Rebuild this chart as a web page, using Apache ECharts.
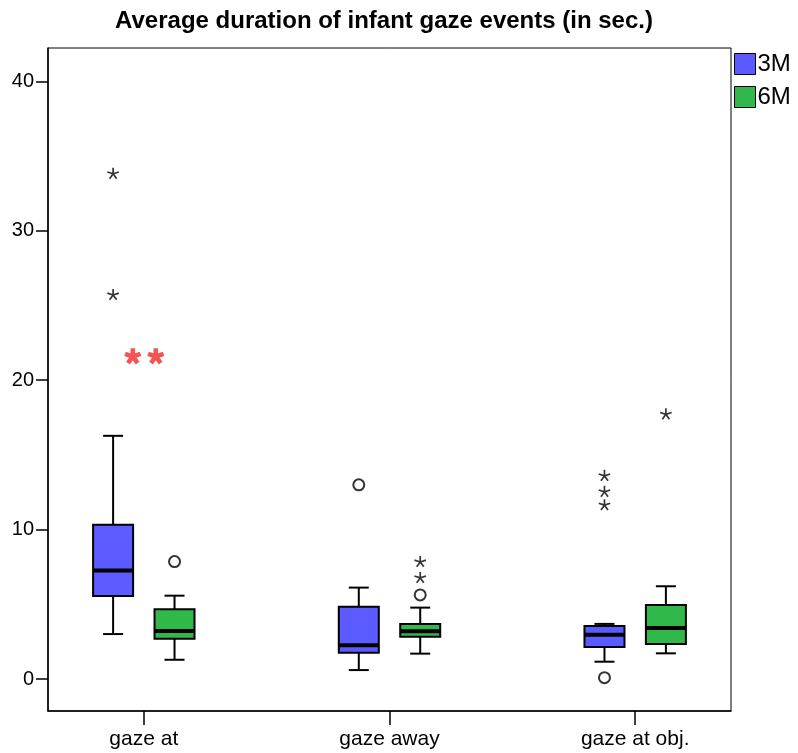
<!DOCTYPE html>
<html>
<head>
<meta charset="utf-8">
<script src="https://cdn.jsdelivr.net/npm/echarts@6/dist/echarts.min.js"></script>
<style>html,body{margin:0;padding:0;background:#fff}#main{width:798px;height:753px}</style>
</head>
<body>
<div id="main"></div>
<script>
// ---- data ----
const categories = ['gaze at', 'gaze away', 'gaze at obj.'];
const seriesNames = ['3M', '6M'];
// [lower whisker, Q1, median, Q3, upper whisker]
const box3M = [[3.01, 5.56, 7.26, 10.32, 16.28], [0.60, 1.76, 2.26, 4.84, 6.12], [1.16, 2.14, 2.97, 3.55, 3.69]];
const box6M = [[1.29, 2.70, 3.22, 4.67, 5.58], [1.70, 2.83, 3.20, 3.69, 4.78], [1.72, 2.35, 3.42, 4.96, 6.21]];
// [category index, value]
const outliers3M = [[1, 13.0], [2, 0.09]];
const extremes3M = [[0, 33.84], [0, 25.73], [2, 13.62], [2, 12.55], [2, 11.66]];
const outliers6M = [[0, 7.86], [1, 5.63]];
const extremes6M = [[1, 7.86], [1, 6.79], [2, 17.74]];
const sigMarks = [[0, 21.6]];
const yTicks = [0, 10, 20, 30, 40];
const xTicks = [0, 1, 2];

// ---- styling ----
const COLORS = ['#5b5bff', '#31b84a'];
const OFF = [-0.125, 0.125];
const FONT = 'Liberation Sans';

function asterisk(cx, cy, L, w) {
  let d = '';
  for (let k = 0; k < 5; k++) {
    const a = k * 72 * Math.PI / 180;
    const dx = Math.sin(a), dy = -Math.cos(a);
    const nx = Math.cos(a), ny = Math.sin(a);
    const p = [
      [cx + w * nx, cy + w * ny],
      [cx + w * nx + L * dx, cy + w * ny + L * dy],
      [cx - w * nx + L * dx, cy - w * ny + L * dy],
      [cx - w * nx, cy - w * ny]
    ];
    d += 'M' + p.map(q => q[0].toFixed(2) + ' ' + q[1].toFixed(2)).join(' L') + ' Z ';
  }
  return d;
}
const STAR = 'path://' + asterisk(50, 50, 50, 7);
const BOLD_STAR = 'path://' + asterisk(50, 50, 50, 14);

function boxRender(params, api) {
  const x = api.value(0);
  const pMin = api.coord([x, api.value(1)]);
  const pQ1 = api.coord([x, api.value(2)]);
  const pMed = api.coord([x, api.value(3)]);
  const pQ3 = api.coord([x, api.value(4)]);
  const pMax = api.coord([x, api.value(5)]);
  const cx = pMed[0];
  const hw = 20, cw = 10;
  const ls = { stroke: '#000', lineWidth: 2 };
  return {
    type: 'group',
    children: [
      { type: 'line', shape: { x1: cx, y1: pQ3[1], x2: cx, y2: pMax[1] }, style: ls },
      { type: 'line', shape: { x1: cx, y1: pQ1[1], x2: cx, y2: pMin[1] }, style: ls },
      { type: 'line', shape: { x1: cx - cw, y1: pMax[1], x2: cx + cw, y2: pMax[1] }, style: ls },
      { type: 'line', shape: { x1: cx - cw, y1: pMin[1], x2: cx + cw, y2: pMin[1] }, style: ls },
      { type: 'rect', shape: { x: cx - hw, y: pQ3[1], width: 2 * hw, height: pQ1[1] - pQ3[1] },
        style: { fill: api.visual('color'), stroke: '#000', lineWidth: 2 } },
      { type: 'line', shape: { x1: cx - hw, y1: pMed[1], x2: cx + hw, y2: pMed[1] }, style: { stroke: '#000', lineWidth: 4 } }
    ]
  };
}

const boxes = [box3M, box6M];
const outs = [outliers3M, outliers6M];
const exts = [extremes3M, extremes6M];

const series = [];
seriesNames.forEach((name, s) => {
  series.push({
    name: name, type: 'custom', renderItem: boxRender,
    itemStyle: { color: COLORS[s] },
    encode: { x: 0, y: [1, 2, 3, 4, 5] },
    data: boxes[s].map((b, i) => [i + OFF[s]].concat(b)),
    z: 2
  });
});
seriesNames.forEach((name, s) => {
  series.push({
    name: name + ' outliers', type: 'scatter', symbol: 'circle', symbolSize: 11,
    itemStyle: { color: '#fff', borderColor: '#000', borderWidth: 2 },
    data: outs[s].map(o => [o[0] + OFF[s], o[1]]), z: 3, silent: true
  });
  series.push({
    name: name + ' extremes', type: 'scatter', symbol: STAR, symbolSize: 12, symbolKeepAspect: true,
    itemStyle: { color: '#000' },
    data: exts[s].map(o => [o[0] + OFF[s], o[1]]), z: 3, silent: true
  });
});
// significance mark "**" drawn as two bold asterisks
[-11, 12].forEach((dx, k) => {
  series.push({
    name: 'significance' + k, type: 'scatter', symbol: BOLD_STAR, symbolSize: 17, symbolKeepAspect: true,
    symbolOffset: [dx, 0],
    itemStyle: { color: '#f02a2a' }, data: sigMarks, z: 4, silent: true
  });
});

const chart = echarts.init(document.getElementById('main'), null, { renderer: 'canvas' });
chart.setOption({
  animation: false,
  backgroundColor: '#fff',
  title: {
    text: 'Average duration of infant gaze events (in sec.)',
    left: 384, top: 9, padding: 0, textAlign: 'center',
    textStyle: { fontFamily: FONT, fontSize: 24, fontWeight: 'bold', color: '#000' }
  },
  legend: {
    data: seriesNames, orient: 'vertical', left: 734, top: 52, padding: 0,
    itemWidth: 21, itemHeight: 21, itemGap: 9, icon: 'rect', selectedMode: false,
    itemStyle: { borderColor: '#000', borderWidth: 1 },
    textStyle: { fontFamily: FONT, fontSize: 24, color: '#000', padding: [0, 0, 0, -3] }
  },
  grid: { left: 48, right: 67, top: 48, bottom: 42, show: true, borderColor: '#000', borderWidth: 1, backgroundColor: 'transparent' },
  xAxis: {
    type: 'value', min: -0.39, max: 2.39,
    splitLine: { show: false },
    axisLine: { show: true, onZero: false, lineStyle: { color: '#000', width: 1.5 } },
    axisTick: { show: true, customValues: xTicks, length: 14, lineStyle: { color: '#000', width: 1.5 } },
    axisLabel: { customValues: xTicks, formatter: v => categories[Math.round(v)], margin: 18,
      fontFamily: FONT, fontSize: 21, color: '#000' }
  },
  yAxis: {
    type: 'value', min: -2.14, max: 42.24,
    splitLine: { show: false },
    axisLine: { show: true, onZero: false, lineStyle: { color: '#000', width: 1.5 } },
    axisTick: { show: true, customValues: yTicks, length: 12, lineStyle: { color: '#000', width: 1.5 } },
    axisLabel: { customValues: yTicks, margin: 14, fontFamily: FONT, fontSize: 20, color: '#000' }
  },
  series: series
});
</script>
</body>
</html>
